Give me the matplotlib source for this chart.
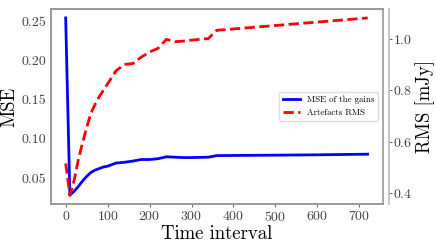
import matplotlib
matplotlib.use("Agg")
import matplotlib.pyplot as plt

plt.rcParams["font.family"] = "cmr10"
plt.rcParams["mathtext.fontset"] = "cm"
plt.rcParams["axes.formatter.use_mathtext"] = True

time_interval = [0, 10, 20, 30, 40, 50, 60, 70, 80, 90, 100, 120, 140, 160, 180,
                 200, 220, 240, 260, 280, 300, 320, 340, 360, 480, 600, 720]
mse_gains = [0.254, 0.028, 0.033, 0.039, 0.046, 0.052, 0.057, 0.060, 0.062, 0.064,
             0.065, 0.069, 0.0700, 0.0715, 0.0735, 0.0735, 0.0745, 0.0770, 0.0765,
             0.0760, 0.0760, 0.0762, 0.0765, 0.0785, 0.0790, 0.0795, 0.0803]
artefacts_rms = [0.516, 0.393, 0.450, 0.530, 0.595, 0.655, 0.710, 0.745, 0.775,
                 0.800, 0.825, 0.875, 0.900, 0.903, 0.928, 0.948, 0.962, 0.997,
                 0.988, 0.990, 0.994, 0.997, 1.000, 1.032, 1.048, 1.064, 1.080]

grey = "#999999"
fig = plt.figure(figsize=(4.36, 2.45), dpi=100)
ax = fig.add_axes([0.116, 0.167, 0.762, 0.796])
ax2 = ax.twinx()

l1, = ax.plot(time_interval, mse_gains, color="#0000ff", lw=2, label="MSE of the gains")
l2, = ax2.plot(time_interval, artefacts_rms, color="#ff0000", lw=2, ls="--",
               label="Artefacts RMS")

ax.set_xticks([0, 100, 200, 300, 400, 500, 600, 700])
ax.set_yticks([0.05, 0.10, 0.15, 0.20, 0.25])
ax.set_yticklabels(["0.05", "0.10", "0.15", "0.20", "0.25"])
ax2.set_yticks([0.4, 0.6, 0.8, 1.0])

ax.set_xlabel("Time interval", fontsize=13.5, labelpad=1)
ax.set_ylabel("MSE", fontsize=13.5, labelpad=2)
ax2.set_ylabel("RMS [mJy]", fontsize=13.5, labelpad=2)

for a in (ax, ax2):
    for s in a.spines.values():
        s.set_color(grey)
        s.set_linewidth(1.2)
ax2.spines["right"].set_position(("outward", 4.5))
ax2.spines["right"].set_color("#bbbbbb")

ax.tick_params(axis="x", labelsize=10, colors="#444444", length=2, width=0.6, pad=2)
ax.tick_params(axis="y", labelsize=10, colors="#444444", length=0, pad=3)
ax2.tick_params(axis="y", labelsize=10, colors="#444444", length=2, width=0.6, pad=1)

ax2.legend(handles=[l1, l2], loc="center right", fontsize=6.4, frameon=True,
           framealpha=1, edgecolor="#dddddd", fancybox=True,
           bbox_to_anchor=(1.0, 0.5))

fig.savefig("out.png", dpi=100)
